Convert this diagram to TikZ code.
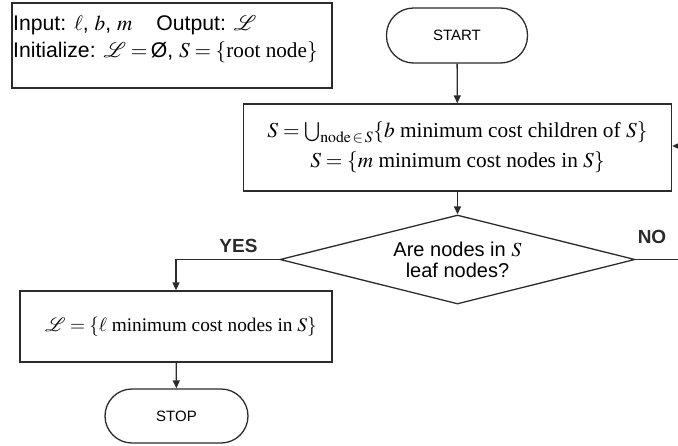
\documentclass[tikz,border=0pt]{standalone}
\usepackage{mathptmx}
\usepackage{fontspec}
\setmainfont{Liberation Serif}
\setsansfont{Liberation Sans}
\usetikzlibrary{arrows.meta,shapes.geometric}

\definecolor{ink}{HTML}{2B2B2B}

\tikzset{
  box/.style={draw=ink, line width=1.3pt, rectangle, inner sep=2pt, align=center},
  terminal/.style={draw=ink, line width=1.3pt, rectangle, rounded corners=27pt,
                   font=\sffamily\fontsize{15}{18}\selectfont},
  decision/.style={draw=ink, line width=1.3pt, diamond, inner sep=0pt},
  flow/.style={draw=ink, line width=1.3pt, -{Triangle[length=8pt,width=7pt]}},
  plain/.style={draw=ink, line width=1.3pt},
  branch/.style={font=\sffamily\bfseries\fontsize{19}{21}\selectfont, text=ink},
}

\begin{document}
\begin{tikzpicture}[x=1pt,y=-1pt]
  \useasboundingbox (0,0) rectangle (678,445);

  % input / initialisation box
  \node[box, minimum width=320pt, minimum height=85pt] (init) at (172,45.5) {};
  \node[anchor=west, inner sep=0pt, align=left,
        font=\sffamily\fontsize{21.2}{27}\selectfont] (inittext) at (13,39)
    {Input: $\ell$, $b$, $m$\hspace{24pt}Output: $\mathcal{L}$\\
     Initialize: $\mathcal{L}=$\,Ø, $S=\{\textrm{root node}\}$};

  % terminals
  \node[terminal, minimum width=141pt, minimum height=55pt] (start) at (457,35.5) {START};
  \node[terminal, minimum width=143pt, minimum height=54pt] (stop) at (176.5,416) {STOP};

  % main update step
  \node[box, minimum width=428pt, minimum height=87pt, font=\fontsize{21.3}{30}\selectfont]
    (update) at (457.5,147.5)
    {$S=\bigcup\nolimits_{\mathrm{node}\,\in\,S}\{b$ minimum cost children of $S\}$\\
     $S=\{m$ minimum cost nodes in $S\}$};

  % decision: outline and its text
  \node[decision, minimum width=355pt, minimum height=89pt] (test) at (457.5,259.5) {};
  \node[align=center, inner sep=0pt, font=\sffamily\fontsize{20}{21.5}\selectfont]
    (testtext) at (457.5,260) {Are nodes in $S$\\leaf nodes?};

  % result box
  \node[box, minimum width=312pt, minimum height=71pt] (result) at (176,326.5) {};
  \node[inner sep=0pt, font=\fontsize{19.3}{23}\selectfont] (resulttext) at (181,326.5)
    {$\mathcal{L}=\{\ell$ minimum cost nodes in $S\}$};

  % off-page ends of the loop back
  \coordinate (noend) at (678,259.5);
  \coordinate (loopin) at (680,146);

  % connectors
  \draw[flow] (start) -- (update);
  \draw[flow] (update.south -| test.north) -- (test.north);
  \draw[flow] (test.west) -| (result.north);
  \draw[plain] (test.east) -- (noend);
  \draw[flow] (loopin) -- (loopin -| update.east);
  \draw[flow] (result) -- (stop);

  % branch labels
  \node[branch] (yes) at (238.5,245.5) {YES};
  \node[branch] (no) at (652,236.5) {NO};
\end{tikzpicture}
\end{document}
